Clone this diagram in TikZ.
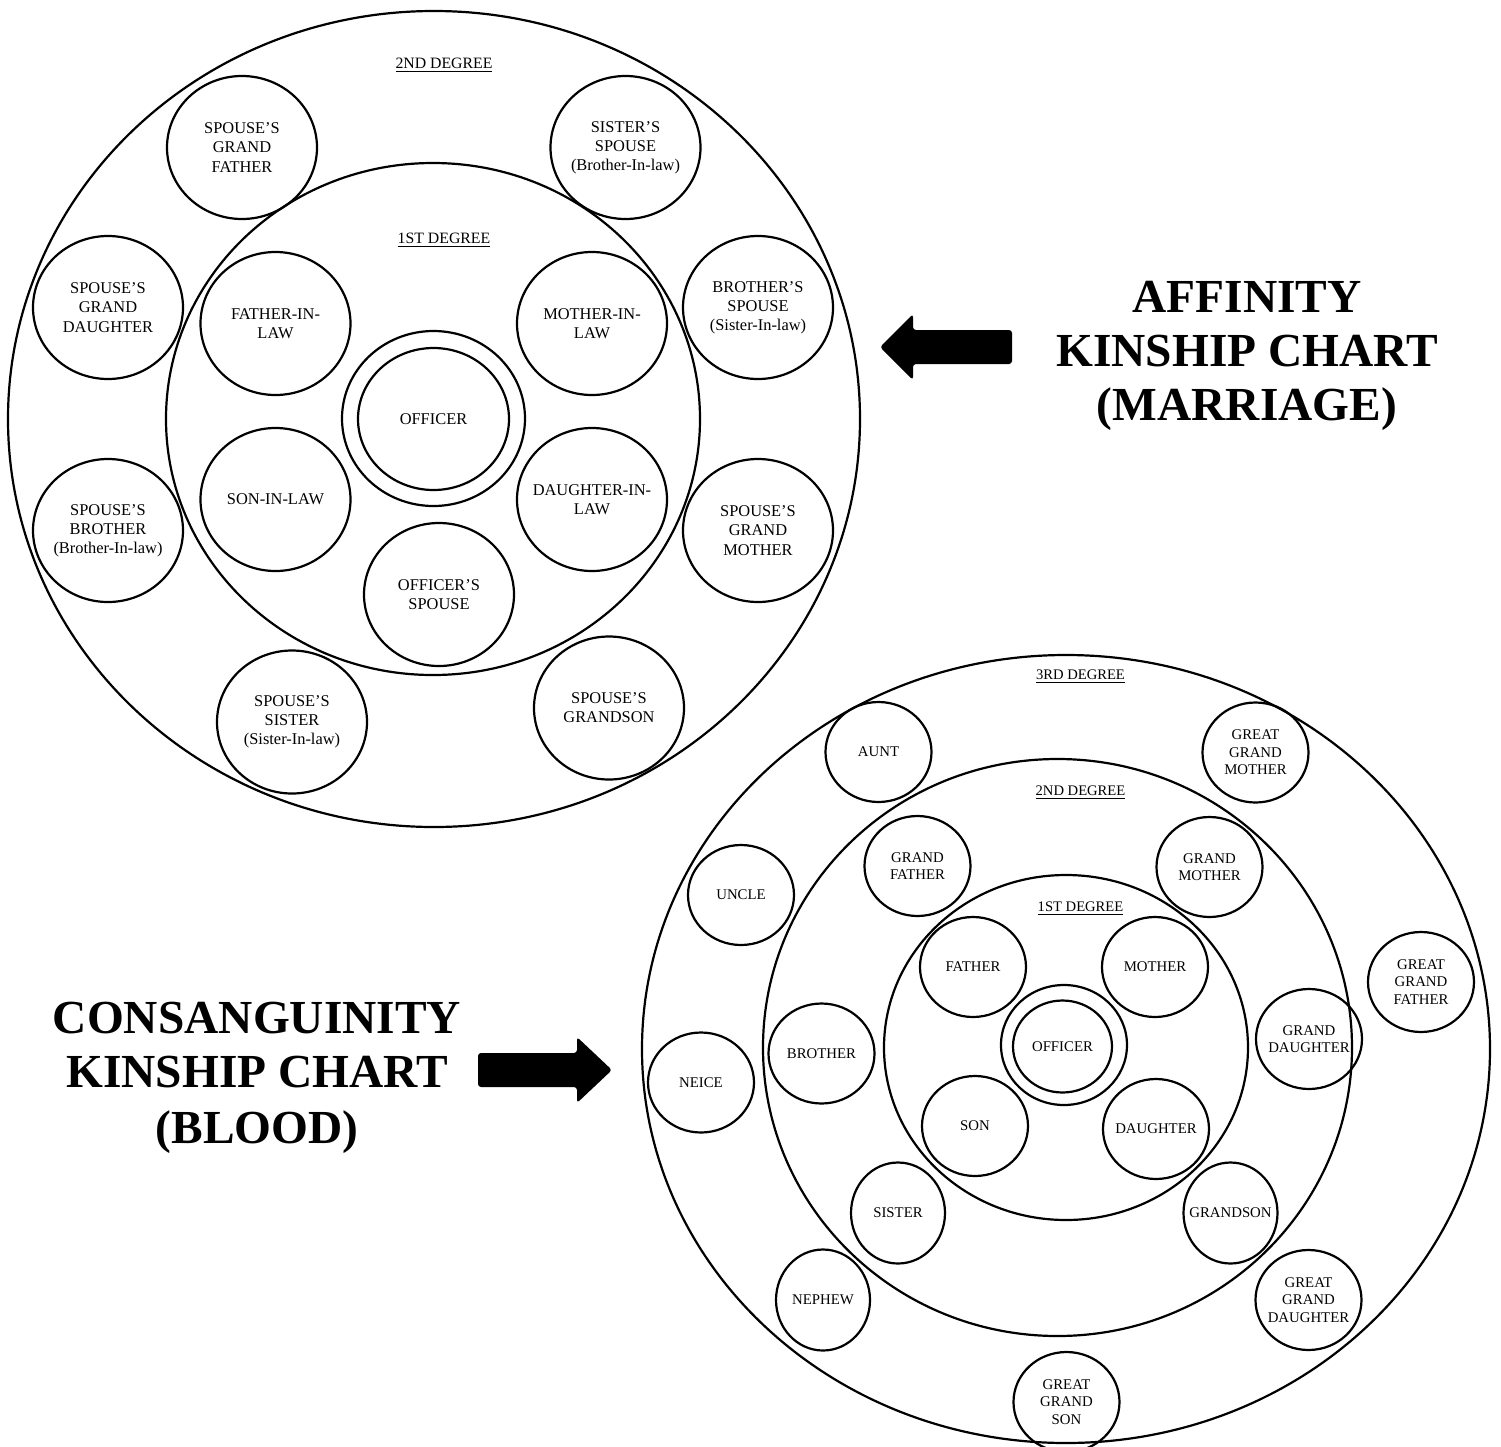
\documentclass[tikz,border=0pt]{standalone}
\usepackage{fontspec}
\setmainfont{Liberation Serif}
\usetikzlibrary{shapes.geometric}
\begin{document}
\begin{tikzpicture}[x=0.5pt,y=-0.5pt,
  ringline/.style={draw, ellipse, line width=1.1pt, inner sep=0pt},
  affc/.style={ringline, inner sep=-6pt, minimum width=75pt, minimum height=71.5pt, align=center, font=\fontsize{8.2}{9.6}\selectfont},
  conc/.style={ringline, inner sep=-6pt, minimum width=53pt, minimum height=50pt, align=center, font=\fontsize{7.4}{8.7}\selectfont},
  conself/.style={conc, minimum width=47pt, minimum height=50.5pt},
  afflabel/.style={inner sep=0pt, font=\fontsize{7.9}{9.5}\selectfont},
  conlabel/.style={inner sep=0pt, font=\fontsize{7.3}{8.7}\selectfont},
  titleline/.style={inner sep=0pt, anchor=base, font=\fontsize{23.7}{28}\selectfont\bfseries},
  bigarrow/.style={fill=black, rounded corners=1.5pt}
]
\fill[white] (0,0) rectangle (1501,1447);
\useasboundingbox (0,0) rectangle (1501,1447);

% ---------------- Affinity chart ----------------
\node[ringline, minimum width=426pt, minimum height=408pt] (aff2) at (434,419) {};
\node[ringline, minimum width=267pt, minimum height=256pt] (aff1) at (433,419) {};
\node[ringline, minimum width=91.5pt, minimum height=87.5pt] (affoffring) at (433.5,418.5) {};
\node[ringline, minimum width=75.5pt, minimum height=71pt, font=\fontsize{8.2}{9.6}\selectfont] (affoff) at (433.5,419) {OFFICER};

\node[afflabel] (aff2lab) at (444,65) {\underline{2ND DEGREE}};
\node[afflabel] (aff1lab) at (444,240) {\underline{1ST DEGREE}};

\node[affc] (sgf) at (242,147.5) {SPOUSE’S\\GRAND\\FATHER};
\node[affc] (ssp) at (625.5,147.5) {SISTER’S\\SPOUSE\\(Brother-In-law)};
\node[affc] (sgd) at (108,307.5) {SPOUSE’S\\GRAND\\DAUGHTER};
\node[affc] (fil) at (275.5,323.5) {FATHER-IN-\\LAW};
\node[affc] (mil) at (592,323.5) {MOTHER-IN-\\LAW};
\node[affc] (bsp) at (758,307.5) {BROTHER’S\\SPOUSE\\(Sister-In-law)};
\node[affc] (sil) at (275.5,499.5) {SON-IN-LAW};
\node[affc] (dil) at (592,499.5) {DAUGHTER-IN-\\LAW};
\node[affc] (osp) at (439,594.5) {OFFICER’S\\SPOUSE};
\node[affc] (sbr) at (108,530.5) {SPOUSE’S\\BROTHER\\(Brother-In-law)};
\node[affc] (sgm) at (758,530.5) {SPOUSE’S\\GRAND\\MOTHER};
\node[affc] (ssi) at (292,722) {SPOUSE’S\\SISTER\\(Sister-In-law)};
\node[affc] (sgs) at (609,708) {SPOUSE’S\\GRANDSON};

% ---------------- Consanguinity chart ----------------
\node[ringline, minimum width=424pt, minimum height=394pt] (con3) at (1066,1049) {};
\node[ringline, minimum width=294.5pt, minimum height=288.5pt] (con2) at (1057.5,1047.5) {};
\node[ringline, minimum width=182pt, minimum height=172.5pt] (con1) at (1066,1047.5) {};
\node[ringline, minimum width=63pt, minimum height=60pt] (conoffring) at (1064,1045) {};
\node[ringline, minimum width=49.5pt, minimum height=46pt, font=\fontsize{7.4}{8.7}\selectfont] (conoff) at (1062.5,1046.5) {OFFICER};

\node[conlabel] (con3lab) at (1080.5,677) {\underline{3RD DEGREE}};
\node[conlabel] (con2lab) at (1080.5,793) {\underline{2ND DEGREE}};
\node[conlabel] (con1lab) at (1080.5,908.5) {\underline{1ST DEGREE}};

\node[conc] (father) at (973,967) {FATHER};
\node[conc] (mother) at (1155,967) {MOTHER};
\node[conc] (son) at (975,1126) {SON};
\node[conc] (daughter) at (1156,1129) {DAUGHTER};
\node[conc] (gfa) at (917.5,866) {GRAND\\FATHER};
\node[conc] (gmo) at (1209.5,867) {GRAND\\MOTHER};
\node[conc] (bro) at (821.5,1053.5) {BROTHER};
\node[conc] (gda) at (1309,1039) {GRAND\\DAUGHTER};
\node[conself] (sis) at (898,1213) {SISTER};
\node[conself] (gso) at (1230.5,1213) {GRANDSON};
\node[conc] (aunt) at (878.5,752) {AUNT};
\node[conc] (ggm) at (1255.5,752.5) {GREAT\\GRAND\\MOTHER};
\node[conc] (uncle) at (741,895) {UNCLE};
\node[conc] (ggf) at (1421,982) {GREAT\\GRAND\\FATHER};
\node[conc] (neice) at (701,1082.5) {NEICE};
\node[conself] (nephew) at (823,1300) {NEPHEW};
\node[conc] (ggd) at (1308.5,1300) {GREAT\\GRAND\\DAUGHTER};
\node[conc] (ggs) at (1066.5,1402) {GREAT\\GRAND\\SON};

% ---------------- Arrows ----------------
\path[bigarrow] (880,347) -- (913,314) -- (913,330) -- (1012,330) -- (1012,364) -- (913,364) -- (913,380) -- cycle;
\path[bigarrow] (612,1070) -- (577,1037) -- (577,1053) -- (478,1053) -- (478,1087) -- (577,1087) -- (577,1103) -- cycle;

% ---------------- Titles ----------------
\node[titleline] (t1) at (1247,312) {AFFINITY};
\node[titleline] (t2) at (1247,366) {KINSHIP CHART};
\node[titleline] (t3) at (1247,420) {(MARRIAGE)};
\node[titleline] (t4) at (257,1033) {CONSANGUINITY};
\node[titleline] (t5) at (257,1087) {KINSHIP CHART};
\node[titleline] (t6) at (257,1143) {(BLOOD)};
\end{tikzpicture}
\end{document}
